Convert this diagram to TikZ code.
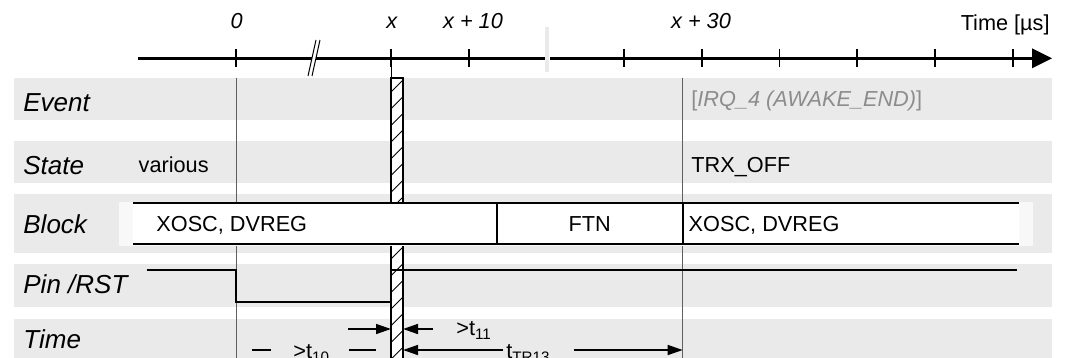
\documentclass[tikz,border=0pt]{standalone}
\usepackage{fontspec}
\setmainfont{Liberation Sans}
\usetikzlibrary{arrows.meta}
\definecolor{band}{RGB}{234,234,234}
\definecolor{vline}{RGB}{95,95,95}
\definecolor{evgray}{RGB}{140,140,140}
\definecolor{offwhite}{RGB}{248,248,248}
\newcommand{\mysub}[1]{\raisebox{-0.35ex}{\fontsize{7.6}{9}\selectfont #1}}
\begin{document}
\begin{tikzpicture}[x=0.5pt,y=-0.5pt,
  rowlabel/.style={font=\fontsize{13}{15}\selectfont\itshape, anchor=base west, inner sep=0pt},
  txt/.style={font=\fontsize{10.85}{13}\selectfont, anchor=base west, inner sep=0pt},
  axlabel/.style={font=\fontsize{10.85}{13}\selectfont\itshape, anchor=base, inner sep=0pt},
  bandbox/.style={fill=band, draw=none},
  guide/.style={draw=vline, line width=0.5pt},
  boxline/.style={draw=black, line width=1pt},
  signal/.style={draw=black, line width=1pt},
  tickmark/.style={draw=black, line width=0.8pt},
  arr/.style={draw=black, line width=0.75pt, -{Triangle[length=7.5pt,width=5pt]}},
  dashseg/.style={draw=black, line width=0.75pt}
]
\useasboundingbox (0,0) rectangle (1070,358);
\clip (0,0) rectangle (1070,358);

% background bands
\fill[bandbox] (14,78) rectangle (1052,120);
\fill[bandbox] (14,141) rectangle (1052,183);
\fill[bandbox] (14,194) rectangle (1052,253);
\fill[bandbox] (14,264) rectangle (1052,307);
\fill[bandbox] (14,319) rectangle (1052,370);

% named coordinates
\coordinate (g0top) at (236,78);   \coordinate (g0bot) at (236,370);
\coordinate (g30top) at (682.7,78); \coordinate (g30bot) at (682.7,370);
\coordinate (xtick) at (391,58);   \coordinate (bartop) at (391,78);

% guide lines
\draw[guide] (g0top) -- (g0bot);
\draw[guide] (g30top) -- (g30bot);
\draw[draw=black, line width=0.5pt] (xtick) -- (bartop);

% hatched bar
\begin{scope}
  \clip (391,78) rectangle (403,370);
  \fill[white] (391,78) rectangle (403,370);
  \foreach \k in {0,...,18} {
    \draw[line width=0.45pt] (391,{92+\k*16.7}) -- (403,{80+\k*16.7});
  }
\end{scope}
\draw[line width=0.8pt] (391,370) -- (391,78) -- (403,78) -- (403,370);

% block box
\fill[offwhite] (119,201.5) rectangle (1033,245.5);
\fill[white] (133,203) rectangle (1019,244);
\coordinate (bTL) at (133,203); \coordinate (bTR) at (1019,203);
\coordinate (bBL) at (133,244); \coordinate (bBR) at (1019,244);
\draw[boxline] (bTL) -- (bTR);
\draw[boxline] (bBL) -- (bBR);
\coordinate (d1t) at (497,203); \coordinate (d1b) at (497,244);
\coordinate (d2t) at (682.7,203); \coordinate (d2b) at (682.7,244);
\draw[boxline] (d1t) -- (d1b);
\draw[boxline] (d2t) -- (d2b);

% pin /RST signal
\coordinate (p0) at (146.7,269.5);
\coordinate (p1) at (236,269.5);
\coordinate (p2) at (236,302.3);
\coordinate (p3) at (391,302.3);
\coordinate (p4) at (391,269.5);
\coordinate (p5) at (1017,269.5);
\draw[signal] (p0) -- (p1) -- (p2) -- (p3) -- (p4) -- (p5);

% time axis
\coordinate (axstart) at (138,58.3);
\coordinate (axend) at (1032,58.3);
\draw[line width=1.5pt] (axstart) -- (axend);
\fill[black] (1032,48.3) -- (1052,58.3) -- (1032,68.3) -- cycle;
\foreach \t in {236,391,469,624,702,779.5,857,935,1012.7} {
  \draw[tickmark] (\t,49) -- (\t,67.5);
}
% axis break
\fill[white] (545,50) rectangle (550,66);
\fill[band] (545,27) rectangle (548.5,72);
% break marks
\fill[white] (308,76) -- (316,40) -- (320,40) -- (312,76) -- cycle;
\draw[line width=0.5pt] (308,76) -- (316,40);
\draw[line width=0.5pt] (312,76) -- (320,40);

% axis labels
\node[axlabel] (a0) at (236.7,28.3) {0};
\node[axlabel] (ax) at (391.7,28.3) {x};
\node[axlabel] (ax10) at (473,28.3) {x + 10};
\node[axlabel] (ax30) at (701,28.3) {x + 30};
\node[txt, anchor=base east] (aunit) at (1050,30.5) {Time [µs]};

% row labels
\node[rowlabel] (lEvent) at (23,111.5) {Event};
\node[rowlabel] (lState) at (23,174) {State};
\node[rowlabel] (lBlock) at (23,233) {Block};
\node[rowlabel] (lPin) at (23,293.5) {Pin /RST};
\node[rowlabel] (lTime) at (23,348) {Time};

% row contents
\node[txt] (various) at (138.3,172) {various};
\node[txt] (trxoff) at (691,172) {TRX\_OFF};
\node[txt, text=evgray] (irq) at (691,107) {[\textit{IRQ\_4 (AWAKE\_END)}]};
\node[txt] (blk1) at (156,231) {XOSC, DVREG};
\node[txt, anchor=base] (ftn) at (589.7,231) {FTN};
\node[txt] (blk2) at (688.3,231) {XOSC, DVREG};

% timing annotations
\coordinate (t11a) at (348,329); \coordinate (barL) at (391,329);
\coordinate (t11b) at (433,329); \coordinate (barR) at (403,329);
\draw[arr] (t11a) -- (barL);
\draw[arr] (t11b) -- (barR);
\node[txt] (t11) at (456,335) {>t\mysub{11}};

\coordinate (t10a) at (252,350); \coordinate (t10b) at (271,350);
\coordinate (t10c) at (349,350); \coordinate (t10d) at (376,350);
\draw[dashseg] (t10a) -- (t10b);
\draw[dashseg] (t10c) -- (t10d);
\node[txt] (t10) at (293,358) {>t\mysub{10}};

\coordinate (tra) at (503,350); \coordinate (trL) at (403,350);
\coordinate (trb) at (574,350); \coordinate (trR) at (682.7,350);
\draw[arr] (tra) -- (trL);
\draw[arr] (trb) -- (trR);
\node[txt] (ttr) at (506,358) {t\mysub{TR13}};
\end{tikzpicture}
\end{document}
